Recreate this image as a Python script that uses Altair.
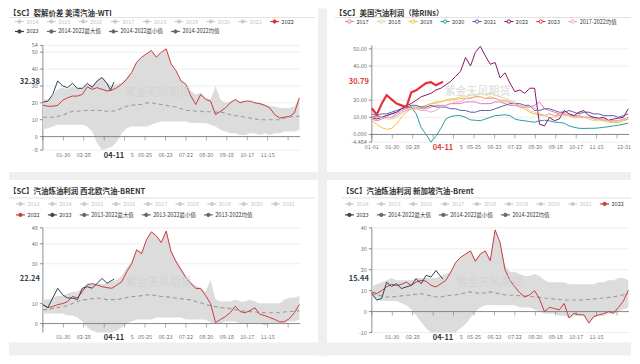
import altair as alt
import pandas as pd

FONT = "Noto Sans CJK SC"
AXIS_GRAY = "#6e7079"
GRID = "#e6e6e6"
RED = "#cc3b3e"
NAVY = "#2f4554"
DARKG = "#666666"
LIGHTG = "#cccccc"
BAND = "#dcdcdc"
AVG = "#9c9c9c"
GUTTER = "#efefef"
WMARK = "紫金天风期货"

W = 258

# ---------------- x positions (day of year, leap-year axis) and tick labels ----------------
DAYS = list(range(0, 365, 7))
X_VALS = [29, 58, 127, 145, 174, 203, 232, 261, 290, 319]
X_LABS = ["01-30", "02-28", "5", "05-25", "06-23", "07-22", "08-20", "09-18", "10-17", "11-15"]
X_VALS2 = [0] + X_VALS
X_LABS2 = ["01-01"] + X_LABS
END_DAY, END_LAB = [365], ["12-31"]
HL_DAY, HL_LAB = [101], ["04-11"]
TICK_DAYS = list(range(0, 366, 29))

# ---------------- panel 1: 美湾汽油-WTI ----------------
P1_YT = [-8, 0, 10, 20, 30, 40, 50, 54]
P1_YL = ["-8", "0", "10", "20", "30", "40", "50", "54"]
P1_2022 = [18.6, 18, 18, 18.5, 21.5, 23, 24, 24, 25, 29.5,
           28, 29, 28, 27, 27.5, 29, 31, 34, 38, 44,
           47, 49, 51, 47, 50, 52, 43, 39, 33, 31,
           24, 19, 25, 22, 21, 13, 15, 17, 20, 22,
           20, 21, 21, 20, 19.5, 18.5, 17, 13, 11, 11.5,
           12, 14, 23]
P1_2023_DAYS = [0, 7, 14, 21, 28, 35, 42, 49, 56, 63, 70, 77, 84, 91, 96, 101]
P1_2023 = [20.4, 21, 25, 33, 30, 29, 31.5, 28.6, 28.6, 31.5, 29.2, 33, 35, 31.5, 27.5, 32.38]
P1_MAX = [22, 22, 24, 28, 29, 28, 30, 29, 29, 31,
          30, 33, 35, 32, 30, 31, 32, 35, 38, 44,
          47, 49, 51, 47, 50, 52, 43, 39, 33, 31,
          27, 25, 26, 23, 22, 30, 22, 20, 21, 22,
          21, 21, 21, 20, 20, 19, 18, 18, 17, 17,
          17, 18, 23]
P1_MIN = [4, 5, 6, 7, 7, 7, 7, 7, 7, 6,
          3, -4, -8, -7, -6, -3, 2, 5, 6, 6,
          6, 6, 7, 8, 9, 9, 9, 9, 9, 9,
          8, 8, 8, 8, 7, 6, 4, 3, 2, 2,
          1, 1, 2, 2, 1, 2, 1, 2, 2, 3,
          3, 3, 4]
P1_AVG = [11.5, 11.5, 11.5, 12, 12.5, 14, 15, 15, 15.5, 15.5,
          15.5, 15.5, 15.5, 15, 15, 15.5, 17, 18, 18.5, 19,
          19, 20, 20, 19.5, 19, 18.5, 18, 17.5, 16.5, 15.5,
          15.5, 15, 15, 14.7, 14.7, 14.5, 14.5, 14, 13, 12.5,
          12, 11.5, 11, 10.5, 10, 10, 10, 10, 10, 11,
          11.5, 12, 12]

# ---------------- panel 2: 美国汽油利润（除RINs） ----------------
P2_YT = [-4.484, 0, 10, 20, 40, 50]
P2_YL = ["-4.484", "0.000", "10.00", "20.00", "40.00", "50.00"]
P2_2017 = [9, 8, 9, 10, 10, 12, 14, 15, 16, 16,
           15, 15, 16, 17, 17, 17, 18, 18, 18, 19,
           19, 19, 18, 18, 18, 19, 19, 18, 17, 17,
           16, 16, 16, 17, 19, 15, 14, 13, 12, 12,
           11, 11, 11, 10, 10, 10, 9, 9, 8, 8,
           8, 9, 9]
P2_2018 = [9, 10, 10, 9, 9, 10, 12, 14, 15, 15,
           16, 17, 18, 18, 19, 20, 21, 21, 22, 22,
           23, 23, 24, 23, 24, 23, 22, 21, 20, 19,
           17, 16, 14, 13, 12, 11, 10, 10, 11, 12,
           12, 11, 10, 10, 9, 8, 8, 8, 7, 7,
           8, 8, 9]
P2_2019 = [8, 6, 4, 3, 3.5, 6, 10, 13, 15, 16,
           16, 17, 18, 19, 19, 20, 20, 20.5, 21, 21,
           21.5, 22, 22, 21, 22, 21, 20, 19, 19, 18,
           16, 15, 13, 12, 11, 11, 12, 11, 12, 11,
           11, 10, 11, 10, 10, 9, 9, 8, 8, 7,
           7, 8, 9]
P2_2020 = [12, 11, 10, 11, 12, 13, 15, 16, 16, 12,
           4, 0, -4.484, -1, 3.5, 9, 10.5, 11, 11, 10,
           8.5, 8.3, 8, 9, 10, 11, 11.2, 11.5, 11, 9,
           8.3, 8, 7.5, 7.2, 8, 8.3, 8, 7.2, 7, 6.6,
           5, 4.2, 3.6, 3.5, 3.6, 3.6, 3.8, 4.2, 4.5, 5,
           5.4, 6, 6.6]
P2_2021 = [10, 11, 12, 12, 13, 14, 15, 16, 17, 17,
           16, 16, 17, 16, 16, 16, 15, 15, 14, 14,
           13, 13, 14, 14, 14, 15, 16, 17, 18, 18,
           18, 17, 17, 14, 14, 15, 15, 14, 13, 13,
           14, 13, 12, 13, 13, 12, 12, 11, 11, 11,
           10, 11, 12]
P2_2022 = [10, 9, 10, 11, 12, 13, 15, 17, 18, 20,
           22, 23, 24, 26, 27, 29, 31, 34, 37, 45,
           40, 48, 51.5, 46, 41, 42, 33, 36, 30, 25,
           26, 24, 27, 27, 6, 5, 10, 8, 9, 14,
           12, 11, 13, 14, 11, 10, 9.5, 10, 8.3, 9,
           9.5, 10, 15]
P2_2023_DAYS = [0, 7, 14, 21, 28, 35, 42, 49, 56, 63, 70, 77, 84, 91, 101]
P2_2023 = [15.3, 11.5, 18, 22.9, 20.5, 18, 17, 16, 24.6, 25.8, 28, 30, 30.5, 28.7, 30.79]
P2_AVG = [10, 10, 10, 10, 10, 11, 13, 14, 15, 15,
          14, 14, 13, 14, 16, 17, 18, 19, 19, 21,
          21, 22, 22, 21, 21, 21, 20, 20, 19, 18,
          17, 16, 16, 16, 12, 11, 12, 11, 11, 12,
          11, 10, 10, 10, 10, 9, 9, 9, 8, 8,
          8, 9, 10]

# ---------------- panel 3: 西北欧汽油-BRENT ----------------
P3_YT = [0, 10, 30, 40, 48]
P3_YL = ["0", "10", "30", "40", "48"]
P3_2022 = [9.5, 8, 8.5, 9.5, 10, 11, 13.6, 12.8, 16, 19.5,
           20, 19.3, 18.5, 18, 17.7, 19.3, 21, 26, 30, 37,
           35, 42, 46, 44, 40.6, 46.4, 36, 31, 27, 23,
           20, 17.7, 17.5, 14, 10, 0.5, 2, 3.5, 5.5, 8.7,
           6, 5.4, 6.5, 7.9, 4.6, 4, 3, 2.1, 0.8, 1,
           2.5, 5.5, 9.5]
P3_2023_DAYS = [0, 7, 14, 21, 28, 35, 42, 49, 56, 63, 70, 77, 84, 91, 101]
P3_2023 = [9.5, 8, 12.8, 17.7, 14.4, 12.8, 12.8, 12, 17.7, 18.5, 17.7, 20.2, 22.6, 20.2, 22.24]
P3_MAX = [12, 12, 13, 14, 14, 15, 16, 16, 18, 20,
          20, 20, 20, 20, 21, 22, 24, 28, 31, 37,
          36, 42, 46, 44, 41, 46.4, 37, 32, 28, 24,
          21, 19, 18, 16, 22, 12, 11, 11, 11, 12,
          11, 11, 12, 11, 10, 10, 10, 10, 10, 12,
          13, 13, 14]
P3_MIN = [5, 5, 5, 5, 5, 4, 4, 3, 1, -2,
          -3.5, -4.5, -4.5, -4.5, -4.5, -3.5, -2, 0, 1, 2,
          2, 2, 2, 3, 3, 3, 3, 3, 3, 2,
          2, 2, 2, 2, 0.5, 0, 0, 1, 1, 1,
          0, 0, 0, 0, 0, -1, 0, 0, 0, 0,
          1, 1, 2]
P3_AVG = [7, 7, 7.5, 8, 8.5, 9, 10, 11, 12, 12,
          12.5, 12.8, 12.5, 12, 12, 12, 12.5, 13, 13.5, 13.6,
          14, 14.4, 14.4, 14, 13.6, 13.5, 13, 12.8, 12.5, 12,
          12, 11, 10.5, 9.5, 9, 8.5, 8, 7.9, 7.5, 7,
          6.5, 6.2, 6, 5.8, 5.5, 5.4, 5.4, 5.4, 5.5, 5.8,
          6, 6.2, 6.5]

# ---------------- panel 4: 新加坡汽油-Brent ----------------
P4_YT = [-10, 0, 10, 20, 30, 40]
P4_YL = ["-10", "0", "10", "20", "30", "40"]
P4_2022 = [9.4, 8.6, 10, 11.8, 13, 12.5, 13, 14.1, 12.5, 14.1,
           14.9, 14.5, 12.5, 11.8, 13.3, 14.9, 18.8, 23.5, 25.9, 27.5,
           29, 24, 27.5, 29, 24.3, 39, 33, 20, 15, 11.8,
           9, 7, 8, 10, 6, 0, 2, 1.5, 0.8, 3.9,
           -3.1, -0.8, -1.5, -1.6, -5.5, -2.4, -1.6, -1, 0, -0.8,
           2, 5, 10.2]
P4_2023_DAYS = [0, 7, 14, 21, 28, 35, 42, 49, 56, 63, 70, 77, 84, 91, 101]
P4_2023 = [8.6, 5.5, 6.3, 14, 12, 13.3, 11, 11.8, 12.5, 15.7, 13.3, 17.3, 16.5, 19.6, 15.44]
P4_MAX = [12, 13, 14, 15, 16, 15, 15, 15, 15, 16,
          16, 16, 16, 16, 17, 18, 19, 23.5, 26, 27.5,
          29, 25, 27.5, 29, 25, 39, 33, 22, 19, 19,
          18, 17, 17, 18, 17, 15, 14, 14, 14, 14,
          13, 13, 13, 13, 13, 13, 14, 14, 15, 15,
          16, 16, 15]
P4_MIN = [7, 6, 5, 5, 5, 5, 4, 3, 1, -2,
          -5, -8, -10, -10, -10, -10, -10, -10, -8, -6,
          -3, 0, 2, 3, 3, 3, 3, 3, 3, 3,
          2, 2, 2, 1, 0, -1, -1, -1, -2, -2,
          -3.1, -2, -2, -2, -5.5, -3, -2, -2, -1, -1,
          0, 1, 2]
P4_AVG = [8.6, 8, 7.5, 7, 7, 7.2, 7.5, 7.8, 8, 8.3,
          8.6, 8, 7.5, 7, 7, 7.5, 7.8, 8, 8.5, 9,
          9.4, 9, 8.6, 9, 9.4, 9, 8.5, 8, 7.8, 7.8,
          7.6, 7.4, 7.2, 7, 6.8, 6.5, 6.3, 6, 5.8, 5.5,
          5.5, 5.5, 5.5, 5.6, 5.8, 6, 6.3, 6.5, 6.8, 7,
          7.5, 8, 8.6]

# ---------------- legend entries ----------------
UNSEL_1 = ["2014", "2015", "2016", "2017", "2018", "2019", "2020", "2021"]
SEL_1 = ["2022", "2023", "2014-2022最大值", "2014-2022最小值", "2014-2022均值"]
UNSEL_3 = ["2013", "2014", "2015", "2016", "2017", "2018", "2019", "2020", "2021"]
SEL_3 = ["2022", "2023", "2013-2022最大值", "2013-2022最小值", "2013-2022均值"]
P2_SERIES = ["2017", "2018", "2019", "2020", "2021", "2022", "2023", "2017-2022均值"]
P2_COLORS = ["#e377c2", "#d9d49c", "#f2c230", "#2a9d9a", "#5a5fa8", "#86196a", "#e8303a", "#f4a6b8"]
SEL_COLORS = [RED, NAVY, DARKG, DARKG, DARKG]


def lines_df(series):
    rows = []
    for name, (days, vals) in series.items():
        for d, v in zip(days, vals):
            rows.append({"day": d, "value": v, "series": name})
    return pd.DataFrame(rows)


def band_df(lo, hi, avg):
    return pd.DataFrame({"day": DAYS, "lo": lo, "hi": hi, "avg": avg})


def one():
    return pd.DataFrame({"k": [0]})


def text_w(s, fs):
    return sum(fs * (1.0 if ord(c) > 0x2E80 else 0.5) for c in s)


def legend_layers(rows, x0, ys, hollow, fs=5.5):
    """rows: list of lists of (name, symbol colour, label colour); laid out left to right."""
    recs = []
    for items, y in zip(rows, ys):
        x = x0
        for name, col, lcol in items:
            recs.append({"name": name, "x1": x, "x2": x + 9, "cx": x + 4.5, "tx": x + 11.5,
                         "y": y, "col": col, "lcol": lcol})
            x += 9 + 2.5 + text_w(name, fs) + 9.5
    base = alt.Chart(pd.DataFrame(recs))
    sym = base.mark_rule(strokeWidth=1.2).encode(
        x=alt.X("x1:Q", scale=None, axis=None), x2="x2:Q",
        y=alt.Y("y:Q", scale=None, axis=None), stroke=alt.Stroke("col:N", scale=None, legend=None))
    pt = base.mark_circle(size=11, opacity=1, strokeWidth=1).encode(
        x=alt.X("cx:Q", scale=None, axis=None), y=alt.Y("y:Q", scale=None, axis=None),
        fill=alt.value("#ffffff") if hollow else alt.Fill("col:N", scale=None, legend=None),
        stroke=alt.Stroke("col:N", scale=None, legend=None))
    txt = base.mark_text(align="left", baseline="middle", font=FONT, fontSize=fs).encode(
        x=alt.X("tx:Q", scale=None, axis=None), y=alt.Y("y:Q", scale=None, axis=None),
        text="name:N", color=alt.Color("lcol:N", scale=None, legend=None))
    return [sym, pt, txt]


def make_panel(h, ydom, yt, yl, xv, xl, xhl, band, lines, thick, cdom, crange, legend,
               title, tx, ty, rx2, ry, hl_text, hl_val, hl_color, wx, wy,
               end_label=False, extra=()):
    xs = alt.Scale(domain=[0, 365], nice=False, zero=False)
    ys = alt.Scale(domain=ydom, nice=False, zero=False, clamp=True)
    cs = alt.Scale(domain=cdom, range=crange)
    X = lambda f: alt.X(f, scale=xs, axis=None)
    Y = lambda f: alt.Y(f, scale=ys, axis=None)
    ydf = pd.DataFrame({"v": yt, "t": yl})
    xdf = pd.DataFrame({"d": xv, "t": xl})
    layers = list(extra)
    # grid, y axis line, y ticks, y labels
    layers.append(alt.Chart(ydf).mark_rule(color=GRID, strokeWidth=0.7).encode(
        y=Y("v:Q"), x=alt.value(0), x2=alt.value(W)))
    layers.append(alt.Chart(one()).mark_rule(color=AXIS_GRAY, strokeWidth=0.8).encode(
        x=alt.value(0), y=alt.value(0), y2=alt.value(h)))
    layers.append(alt.Chart(ydf).mark_rule(color=AXIS_GRAY, strokeWidth=0.8).encode(
        y=Y("v:Q"), x=alt.value(-3), x2=alt.value(0)))
    layers.append(alt.Chart(ydf).mark_text(
        align="right", baseline="middle", font=FONT, fontSize=5.5, color=AXIS_GRAY).encode(
        y=Y("v:Q"), x=alt.value(-5), text="t:N"))
    # x labels
    layers.append(alt.Chart(xdf).mark_text(
        align="center", baseline="top", font=FONT, fontSize=5.5, color=AXIS_GRAY).encode(
        x=X("d:Q"), y=alt.value(h + 3), text="t:N"))
    if end_label:
        layers.append(alt.Chart(pd.DataFrame({"d": END_DAY, "t": END_LAB})).mark_text(
            align="right", baseline="top", font=FONT, fontSize=5.5, color=AXIS_GRAY, dx=2).encode(
            x=X("d:Q"), y=alt.value(h + 3), text="t:N"))
    layers.append(alt.Chart(pd.DataFrame({"d": HL_DAY, "t": HL_LAB})).mark_text(
        align="center", baseline="top", font=FONT, fontSize=7.5, fontWeight="bold", color=xhl).encode(
        x=X("d:Q"), y=alt.value(h + 1.5), text="t:N"))
    # band and average
    if band is not None:
        layers.append(alt.Chart(band).mark_area(color=BAND, interpolate="linear").encode(
            x=X("day:Q"), y=Y("lo:Q"), y2="hi:Q"))
        layers.append(alt.Chart(band).mark_line(color=AVG, strokeDash=[4, 3], strokeWidth=1.1).encode(
            x=X("day:Q"), y=Y("avg:Q")))
    # axis line on zero, with ticks
    layers.append(alt.Chart(pd.DataFrame({"z": [0]})).mark_rule(color=AXIS_GRAY, strokeWidth=0.8).encode(
        x=alt.value(0), x2=alt.value(W), y=Y("z:Q")))
    layers.append(alt.Chart(pd.DataFrame({"d": TICK_DAYS, "z": [0] * len(TICK_DAYS)})).mark_tick(
        orient="vertical", size=4, thickness=0.8, color=AXIS_GRAY, yOffset=2).encode(
        x=X("d:Q"), y=Y("z:Q")))
    # series
    layers.append(alt.Chart(lines).mark_line(strokeWidth=1, interpolate="linear").encode(
        x=X("day:Q"), y=Y("value:Q"),
        stroke=alt.Stroke("series:N", scale=cs, legend=None)))
    if thick is not None:
        layers.append(alt.Chart(thick).mark_line(strokeWidth=2.2, interpolate="linear").encode(
            x=X("day:Q"), y=Y("value:Q"),
            stroke=alt.Stroke("series:N", scale=cs, legend=None)))
    # title, separator, watermark, highlighted value, legend
    layers.append(alt.Chart(one()).mark_text(
        align="left", baseline="middle", font=FONT, fontSize=7.5, fontWeight="bold", color="#333333").encode(
        x=alt.value(tx), y=alt.value(ty), text=alt.value(title)))
    layers.append(alt.Chart(one()).mark_rule(color="#d9d9d9", strokeWidth=0.8).encode(
        x=alt.value(tx), x2=alt.value(rx2), y=alt.value(ry)))
    layers.append(alt.Chart(one()).mark_text(
        align="center", baseline="middle", font=FONT, fontSize=11, color="#d2d2d2", opacity=0.8).encode(
        x=alt.value(wx), y=alt.value(wy), text=alt.value(WMARK)))
    layers.append(alt.Chart(pd.DataFrame({"v": [hl_val], "t": [hl_text]})).mark_text(
        align="right", baseline="middle", font=FONT, fontSize=7.5, fontWeight="bold", color=hl_color).encode(
        x=alt.value(-3), y=Y("v:Q"), text="t:N"))
    layers.extend(legend)
    return alt.layer(*layers).properties(width=W, height=h)


# gutters drawn inside panel 1 coordinates (plot origin at page 42,45)
gutters = [
    alt.Chart(one()).mark_rect(color="#ffffff").encode(
        x=alt.value(-34), x2=alt.value(590), y=alt.value(-37), y2=alt.value(-36)),
    alt.Chart(one()).mark_rect(color=GUTTER).encode(
        x=alt.value(276), x2=alt.value(285), y=alt.value(-37), y2=alt.value(311)),
    alt.Chart(one()).mark_rect(color=GUTTER).encode(
        x=alt.value(-34), x2=alt.value(590), y=alt.value(127), y2=alt.value(135)),
    alt.Chart(one()).mark_rect(color=GUTTER).encode(
        x=alt.value(-34), x2=alt.value(590), y=alt.value(298), y2=alt.value(311)),
]

TXT = "#333333"
UNS = "#c4c4c4"
leg1_rows = [[(n, LIGHTG, UNS) for n in UNSEL_1] + [(SEL_1[0], SEL_COLORS[0], TXT)],
             [(n, c, TXT) for n, c in zip(SEL_1[1:], SEL_COLORS[1:])]]
leg3_rows = [[(n, LIGHTG, UNS) for n in UNSEL_3],
             [(n, c, TXT) for n, c in zip(SEL_3, SEL_COLORS)]]
leg2_rows = [[(n, c, TXT) for n, c in zip(P2_SERIES, P2_COLORS)]]

p1 = make_panel(
    105, [-8, 54], P1_YT, P1_YL, X_VALS, X_LABS, "#333333",
    band_df(P1_MIN, P1_MAX, P1_AVG),
    lines_df({"2022": (DAYS, P1_2022), "2023": (P1_2023_DAYS, P1_2023)}), None,
    ["2022", "2023"], [RED, NAVY], legend_layers(leg1_rows, -28, [-24, -14], False),
    "【SC】裂解价差 美湾汽油-WTI", -34, -32, 273, -28, "32.38", 32.38, "#2b3a4a", 115, 48,
    extra=gutters)

p2_thin = {s: (DAYS, v) for s, v in zip(P2_SERIES, [P2_2017, P2_2018, P2_2019, P2_2020, P2_2021, P2_2022])}
p2_thin["2017-2022均值"] = (DAYS, P2_AVG)
p2 = make_panel(
    97, [-4.484, 52], P2_YT, P2_YL, X_VALS2, X_LABS2, "#e03c3c",
    None, lines_df(p2_thin), lines_df({"2023": (P2_2023_DAYS, P2_2023)}),
    P2_SERIES, P2_COLORS, legend_layers(leg2_rows, -27, [-24], True),
    "【SC】美国汽油利润（除RINs）", -37, -32, 260, -28, "30.79", 30.79, "#e03c3c", 106, 47,
    end_label=True)

p3 = make_panel(
    105, [-4.5, 48], P3_YT, P3_YL, X_VALS, X_LABS, "#333333",
    band_df(P3_MIN, P3_MAX, P3_AVG),
    lines_df({"2022": (DAYS, P3_2022), "2023": (P3_2023_DAYS, P3_2023)}), None,
    ["2022", "2023"], [RED, NAVY], legend_layers(leg3_rows, -27, [-24, -13], False),
    "【SC】汽油炼油利润 西北欧汽油-BRENT", -34, -36, 273, -30, "22.24", 22.24, NAVY, 116, 55)

p4 = make_panel(
    105, [-10, 40], P4_YT, P4_YL, X_VALS, X_LABS, "#333333",
    band_df(P4_MIN, P4_MAX, P4_AVG),
    lines_df({"2022": (DAYS, P4_2022), "2023": (P4_2023_DAYS, P4_2023)}), None,
    ["2022", "2023"], [RED, NAVY], legend_layers(leg1_rows, -27, [-24, -13], False),
    "【SC】汽油炼油利润 新加坡汽油-Brent", -30, -36, 260, -30, "15.44", 15.44, NAVY, 118, 55)

chart = alt.concat(
    p1, p2, p3, p4, columns=2, spacing={"row": 78, "column": 72}, bounds="flush"
).resolve_scale(
    stroke="independent", fill="independent", color="independent"
).properties(padding=0, background="#ffffff").configure_view(stroke=None)

chart.save("out.html", embed_options={"renderer": "svg", "actions": False})
